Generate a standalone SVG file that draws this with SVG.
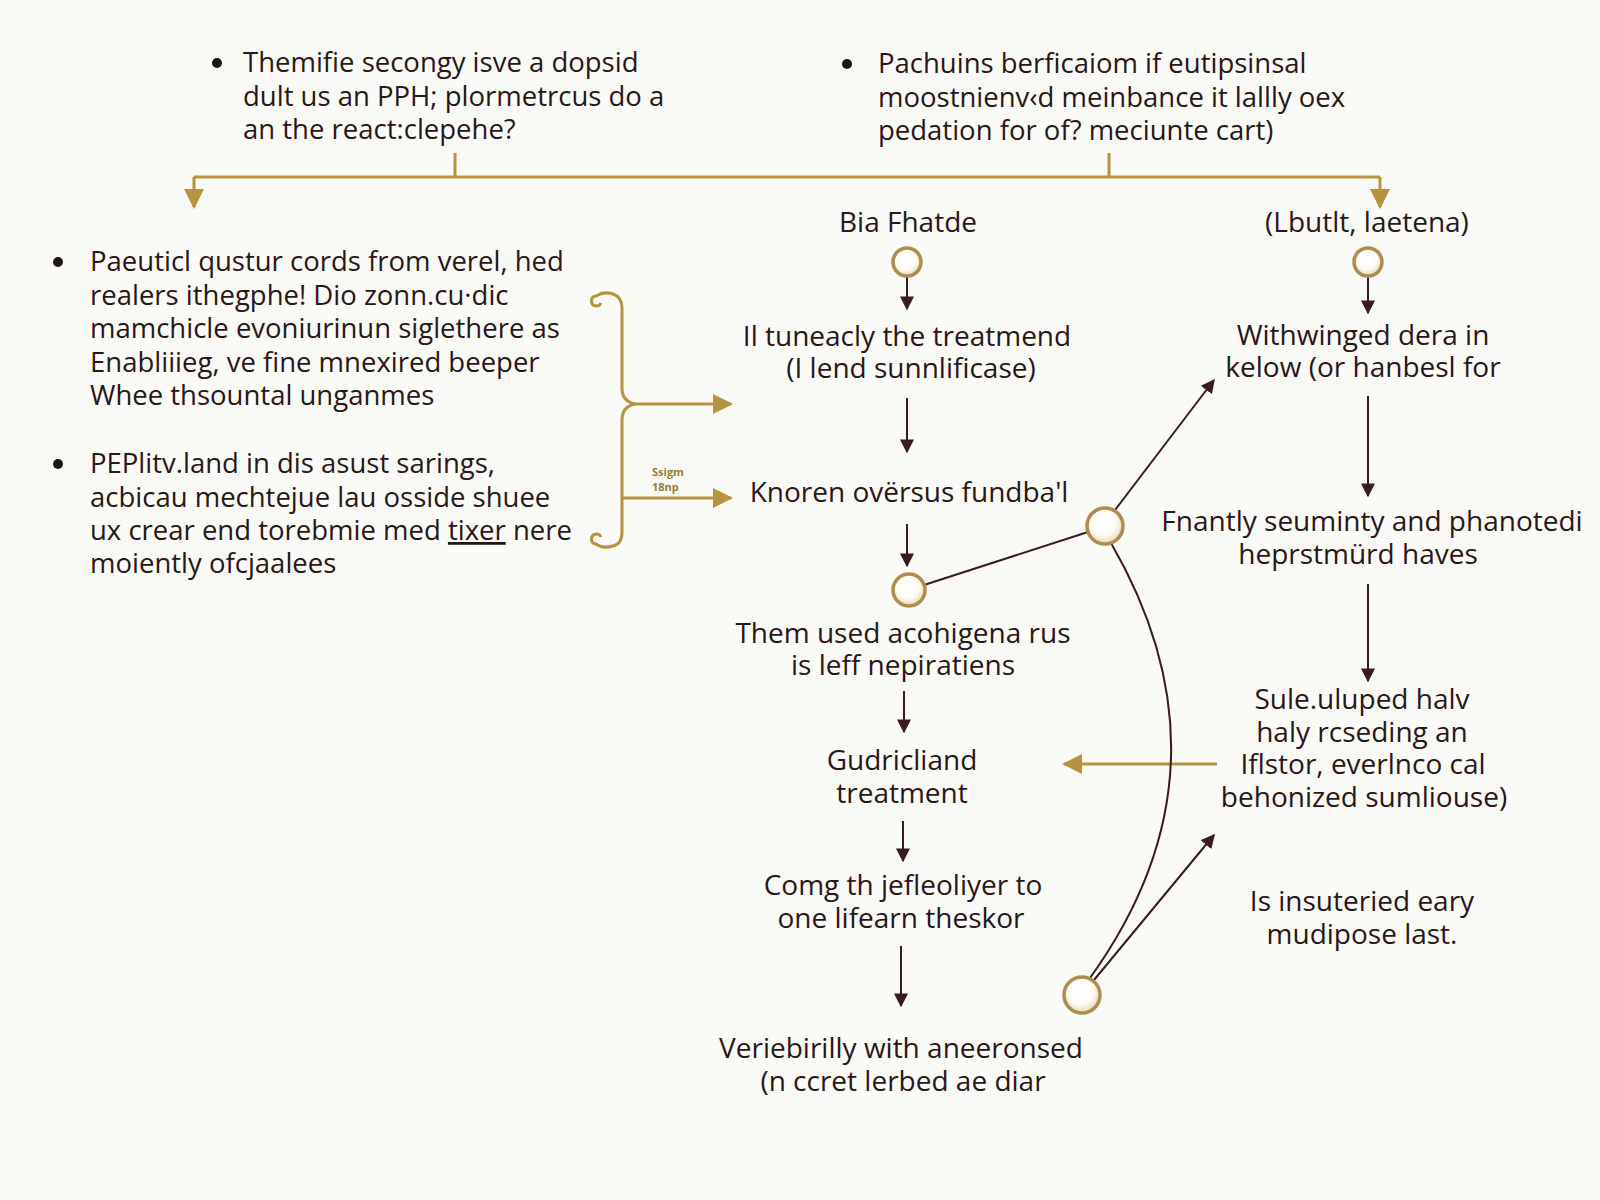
<svg xmlns="http://www.w3.org/2000/svg" width="1600" height="1200" viewBox="0 0 1600 1200">
<defs>
<style>
.t{font-family:"Open Sans","Noto Sans","DejaVu Sans",sans-serif;font-size:28px;fill:#2a1616;}
.b{font-family:"Open Sans","Noto Sans","DejaVu Sans",sans-serif;font-size:27.5px;fill:#2a1616;}
.m{text-anchor:middle;}
.lbl{font-family:"Open Sans","Noto Sans",sans-serif;font-size:11px;font-weight:bold;fill:#9a7a3a;}
.dk{fill:none;stroke:#3a1c1c;stroke-width:2;}
.gd{fill:none;stroke:#b8933f;stroke-width:3;}
.node{fill:url(#cg);stroke:#ad8d4e;stroke-width:3.5;}
.dot{fill:#1e1212;}
</style>
<radialGradient id="cg" cx="0.45" cy="0.4" r="0.6">
<stop offset="0" stop-color="#ffffff"/>
<stop offset="0.6" stop-color="#fdfbf4"/>
<stop offset="1" stop-color="#e6d8b4"/>
</radialGradient>
<marker id="ad" viewBox="0 0 10 10" refX="9" refY="5" markerWidth="14" markerHeight="14" markerUnits="userSpaceOnUse" orient="auto">
<path d="M0,0 L10,5 L0,10 z" fill="#3a1c1c"/>
</marker>
<marker id="ag" viewBox="0 0 10 10" refX="9" refY="5" markerWidth="22" markerHeight="20" markerUnits="userSpaceOnUse" orient="auto">
<path d="M0,0 L10,5 L0,10 z" fill="#b8933f"/>
</marker>
</defs>
<rect width="1600" height="1200" fill="#fafaf7"/>

<g id="connectors">
<path class="gd" d="M455,153 L455,177 M1109,153 L1109,177"/>
<path class="gd" d="M194,177 L1380,177"/>
<path class="gd" d="M194,177 L194,207" marker-end="url(#ag)"/>
<path class="gd" d="M1380,177 L1380,207" marker-end="url(#ag)"/>
<path class="gd" d="M601,303 a5,5 0 1 1 -5,-7 q8,-5 17,-2 q9,3 9,14 L622,388 q0,14 14,16 L731,404" marker-end="url(#ag)"/>
<path class="gd" d="M636,404 q-14,2 -14,16 L622,532 q0,12 -9,14 q-10,3 -17,-2 a5,5 0 1 1 5,-7"/>
<path class="gd" d="M622,498 L731,498" marker-end="url(#ag)"/>
<path class="gd" d="M1217,764 L1064,764" marker-end="url(#ag)"/>

<path class="dk" d="M907,277 L907,309" marker-end="url(#ad)"/>
<path class="dk" d="M907,398 L907,452" marker-end="url(#ad)"/>
<path class="dk" d="M907,524 L907,566" marker-end="url(#ad)"/>
<path class="dk" d="M904,691 L904,732" marker-end="url(#ad)"/>
<path class="dk" d="M903,821 L903,861" marker-end="url(#ad)"/>
<path class="dk" d="M901,946 L901,1006" marker-end="url(#ad)"/>
<path class="dk" d="M1368,277 L1368,313" marker-end="url(#ad)"/>
<path class="dk" d="M1368,396 L1368,496" marker-end="url(#ad)"/>
<path class="dk" d="M1368,584 L1368,681" marker-end="url(#ad)"/>
<path class="dk" d="M924,585 L1088,532"/>
<path class="dk" d="M1115,510 L1214,380" marker-end="url(#ad)"/>
<path class="dk" d="M1111,543 Q1241,768 1090,978"/>
<path class="dk" d="M1094,980 L1214,835" marker-end="url(#ad)"/>
</g>

<g id="top-left">
<circle class="dot" cx="217" cy="63" r="5"/>
<text class="b" x="243" y="72">Themifie secongy isve a dopsid<tspan x="243" dy="34">dult us an PPH; plormetrcus do a</tspan><tspan x="243" dy="33">an the react:clepehe?</tspan></text>
</g>
<g id="top-right">
<circle class="dot" cx="847" cy="64" r="5"/>
<text class="b" x="878" y="73">Pachuins berficaiom if eutipsinsal<tspan x="878" dy="34">moostnienv‹d meinbance it lallly oex</tspan><tspan x="878" dy="33">pedation for of? meciunte cart)</tspan></text>
</g>
<g id="left-1">
<circle class="dot" cx="58" cy="262" r="5"/>
<text class="b" x="90" y="271">Paeuticl qustur cords from verel, hed<tspan x="90" dy="34">realers ithegphe! Dio zonn.cu·dic</tspan><tspan x="90" dy="33">mamchicle evoniurinun siglethere as</tspan><tspan x="90" dy="34">Enabliiieg, ve fine mnexired beeper</tspan><tspan x="90" dy="33">Whee thsountal unganmes</tspan></text>
</g>
<g id="left-2">
<circle class="dot" cx="58" cy="464" r="5"/>
<text class="b" x="90" y="473">PEPlitv.land in dis asust sarings,<tspan x="90" dy="34">acbicau mechtejue lau osside shuee</tspan><tspan x="90" dy="33">ux crear end torebmie med <tspan text-decoration="underline">tixer</tspan> nere</tspan><tspan x="90" dy="33">moiently ofcjaalees</tspan></text>
</g>
<g id="brace-label">
<text class="lbl" x="652" y="476">Ssigm<tspan x="652" dy="15">18np</tspan></text>
</g>

<g id="n-bia">
<text class="t m" x="908" y="232">Bia Fhatde</text>
<circle class="node" cx="907" cy="262" r="14"/>
</g>
<g id="n-tuneacly">
<text class="t m" x="907" y="346">Il tuneacly the treatmend<tspan x="911" dy="32">(I lend sunnlificase)</tspan></text>
</g>
<g id="n-knoren">
<text class="t m" x="909" y="502">Knoren ovërsus fundba'l</text>
</g>
<g id="n-c2">
<circle class="node" cx="909" cy="590" r="16"/>
</g>
<g id="n-them">
<text class="t m" x="903" y="643">Them used acohigena rus<tspan x="903" dy="32">is leff nepiratiens</tspan></text>
</g>
<g id="n-gudric">
<text class="t m" x="902" y="770">Gudricliand<tspan x="902" dy="33">treatment</tspan></text>
</g>
<g id="n-comg">
<text class="t m" x="903" y="895">Comg th jefleoliyer to<tspan x="901" dy="33">one lifearn theskor</tspan></text>
</g>
<g id="n-verie">
<text class="t m" x="901" y="1058">Veriebirilly with aneeronsed<tspan x="903" dy="33">(n ccret lerbed ae diar</tspan></text>
</g>
<g id="n-lbut">
<text class="t m" x="1367" y="232">(Lbutlt, laetena)</text>
<circle class="node" cx="1368" cy="262" r="14"/>
</g>
<g id="n-with">
<text class="t m" x="1363" y="345">Withwinged dera in<tspan x="1363" dy="32">kelow (or hanbesl for</tspan></text>
</g>
<g id="n-fnantly">
<text class="t m" x="1372" y="531">Fnantly seuminty and phanotedi<tspan x="1358" dy="33">heprstmürd haves</tspan></text>
</g>
<g id="n-sule">
<text class="t m" x="1362" y="709">Sule.uluped halv<tspan x="1362" dy="33">haly rcseding an</tspan><tspan x="1363" dy="32">Iflstor, everlnco cal</tspan><tspan x="1364" dy="33">behonized sumliouse)</tspan></text>
</g>
<g id="n-is">
<text class="t m" x="1362" y="911">Is insuteried eary<tspan x="1362" dy="33">mudipose last.</tspan></text>
</g>
<g id="n-hub">
<circle class="node" cx="1105" cy="526" r="18"/>
</g>
<g id="n-bottom">
<circle class="node" cx="1082" cy="995" r="18"/>
</g>
</svg>
